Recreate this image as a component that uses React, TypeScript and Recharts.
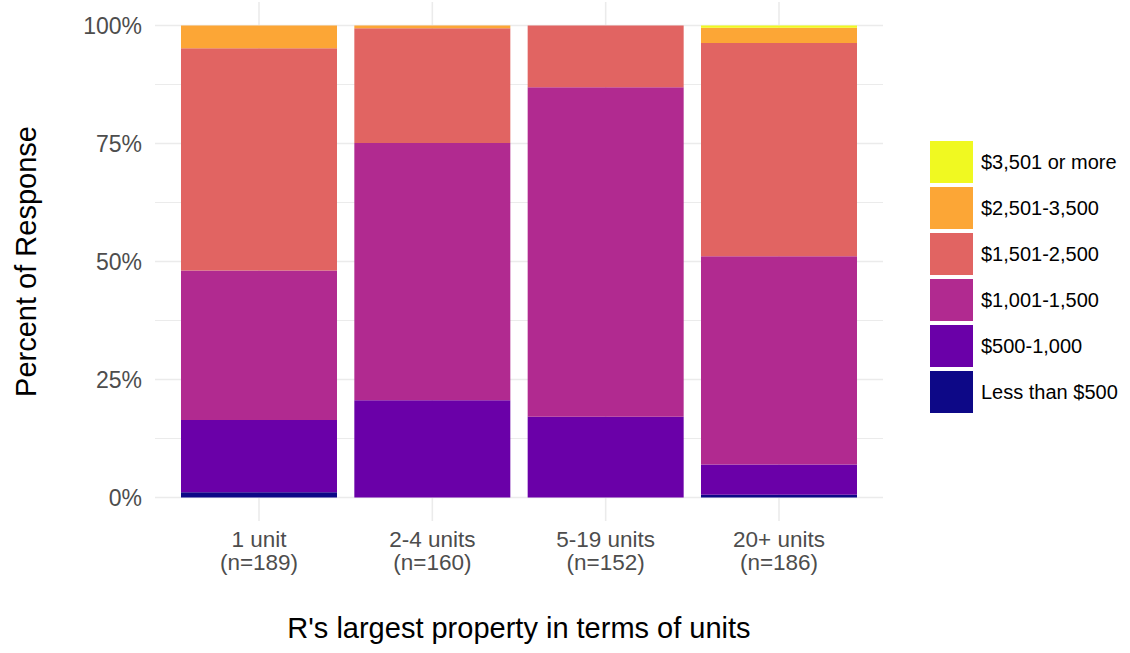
import { Bar, BarChart, CartesianGrid, Label, Legend, XAxis, YAxis } from 'recharts';

const categories = ['1 unit', '2-4 units', '5-19 units', '20+ units'];
const counts = [189, 160, 152, 186];

// percent of responses per rent band, bottom to top
const lessThan500 = [1.1, 0, 0, 0.6];
const from500 = [15.3, 20.6, 17.1, 6.4];
const from1001 = [31.7, 54.5, 69.8, 44.1];
const from1501 = [47.1, 24.3, 13.1, 45.2];
const from2501 = [4.8, 0.6, 0, 3.2];
const over3501 = [0, 0, 0, 0.5];

const seriesNames = ['Less than $500', '$500-1,000', '$1,001-1,500', '$1,501-2,500', '$2,501-3,500', '$3,501 or more'];
const seriesColors = ['#0D0887', '#6A00A8', '#B12A90', '#E16462', '#FCA636', '#F0F921'];
const seriesValues = [lessThan500, from500, from1001, from1501, from2501, over3501];

const yTicks = [0, 25, 50, 75, 100];
const yMinor = [12.5, 37.5, 62.5, 87.5];

const data = categories.map((c, i) => {
  const row: Record<string, string | number> = { cat: c, n: counts[i] };
  seriesNames.forEach((s, k) => { row[s] = seriesValues[k][i]; });
  return row;
});

const FONT = '"Liberation Sans", Arial, sans-serif';

function XTick(props: any) {
  const { x, y, payload } = props;
  const n = counts[categories.indexOf(payload.value)];
  return (
    <g>
      <text x={x} y={y + 26} textAnchor="middle" fill="#4d4d4d" fontSize={22.5} fontFamily={FONT}>
        {payload.value}
      </text>
      <text x={x} y={y + 49} textAnchor="middle" fill="#4d4d4d" fontSize={22.5} fontFamily={FONT}>
        {`(n=${n})`}
      </text>
    </g>
  );
}

function LegendBox() {
  const items = seriesNames.map((s, i) => ({ s, c: seriesColors[i] })).reverse();
  return (
    <div style={{ fontFamily: FONT }}>
      {items.map((it) => (
        <div key={it.s} style={{ display: 'flex', alignItems: 'center', height: 46 }}>
          <div style={{ width: 43, height: 42, background: it.c }} />
          <span style={{ marginLeft: 8, fontSize: 20, color: '#000' }}>{it.s}</span>
        </div>
      ))}
    </div>
  );
}

export default function App() {
  return (
    <div style={{ width: 1130, height: 653, background: '#fff' }}>
      <style>{'body{margin:0}'}</style>
      <BarChart
        width={1130}
        height={653}
        data={data}
        margin={{ top: 1.9, right: 247, bottom: 91.9, left: 0 }}
        barCategoryGap="5%"
      >
        <CartesianGrid stroke="#ebebeb" strokeWidth={1} vertical={false} horizontalValues={yMinor} />
        <CartesianGrid stroke="#ebebeb" strokeWidth={1.6} horizontalValues={yTicks} syncWithTicks />
        <XAxis
          dataKey="cat"
          height={40}
          padding={{ left: 17.33, right: 17.33 }}
          axisLine={false}
          tickLine={false}
          tickSize={0}
          tickMargin={0}
          tick={<XTick />}
          interval={0}
        >
          <Label
            content={() => (
              <text x={519} y={638} textAnchor="middle" fontSize={29} fontFamily={FONT} fill="#000">
                R's largest property in terms of units
              </text>
            )}
          />
        </XAxis>
        <YAxis
          width={155}
          type="number"
          domain={[-5, 105]}
          allowDataOverflow
          ticks={yTicks}
          tickFormatter={(v: number) => `${v}%`}
          axisLine={false}
          tickLine={false}
          tickSize={6}
          tickMargin={7}
          tick={{ fill: '#4d4d4d', fontSize: 23, fontFamily: FONT }}
        >
          <Label
            content={() => (
              <text
                x={26}
                y={261.5}
                transform="rotate(-90 26 261.5)"
                textAnchor="middle"
                dominantBaseline="central"
                fontSize={29}
                fontFamily={FONT}
                fill="#000"
              >
                Percent of Response
              </text>
            )}
          />
        </YAxis>
        <Legend
          layout="vertical"
          align="center"
          verticalAlign="middle"
          content={() => <LegendBox />}
          wrapperStyle={{ left: 930, top: 139, width: 200 }}
        />
        {seriesNames.map((s, i) => (
          <Bar key={s} dataKey={s} stackId="a" fill={seriesColors[i]} isAnimationActive={false} />
        ))}
      </BarChart>
    </div>
  );
}
